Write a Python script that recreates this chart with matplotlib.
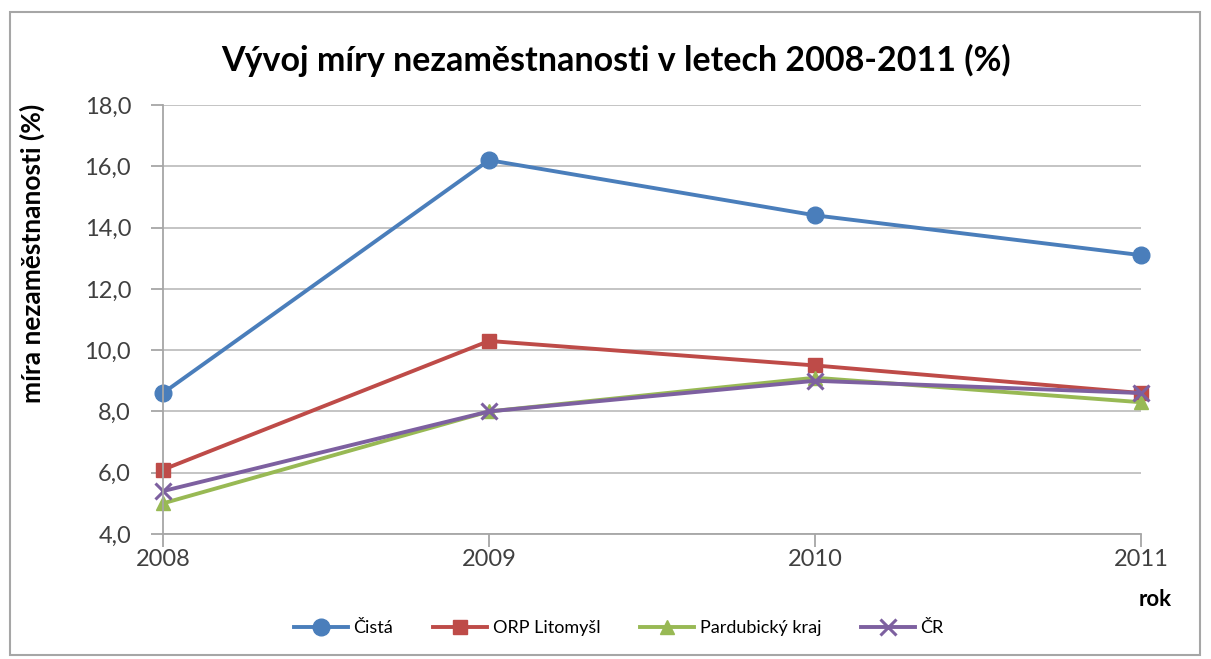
import matplotlib.pyplot as plt
from matplotlib.patches import Rectangle

plt.rcParams['font.family'] = ['Lato', 'DejaVu Sans']

years = ['2008', '2009', '2010', '2011']
cista = [8.6, 16.2, 14.4, 13.1]
orp_litomysl = [6.1, 10.3, 9.5, 8.6]
pardubicky = [5.0, 8.0, 9.1, 8.3]
cr = [5.4, 8.0, 9.0, 8.6]

series = [
    ('Čistá', cista, '#4A7EBB', 'o', 12),
    ('ORP Litomyšl', orp_litomysl, '#BE4B48', 's', 10),
    ('Pardubický kraj', pardubicky, '#98B954', '^', 10),
    ('ČR', cr, '#7D60A0', 'x', 12),
]

fig = plt.figure(figsize=(12.11, 6.59), dpi=100)
ax = fig.add_axes([163 / 1211, 1 - 534 / 659, (1141 - 163) / 1211, (534 - 105) / 659])

x = range(len(years))
for name, vals, color, marker, ms in series:
    ax.plot(x, vals, color=color, marker=marker, markersize=ms, linewidth=2.8,
            markeredgewidth=2.2 if marker == 'x' else 1, label=name, clip_on=False)

ax.set_xlim(0, len(years) - 1)
ax.set_ylim(4, 18)
ax.set_yticks(range(4, 19, 2))
ax.set_yticklabels([f'{v},0' for v in range(4, 19, 2)])
ax.set_xticks(list(x))
ax.set_xticklabels(years)
ax.yaxis.grid(True, color='#BFBFBF', linewidth=1.3)
ax.set_axisbelow(True)
for s in ['top', 'right']:
    ax.spines[s].set_visible(False)
for s in ['left', 'bottom']:
    ax.spines[s].set_color('#A6A6A6')
    ax.spines[s].set_linewidth(1.3)
ax.tick_params(axis='both', colors='#A6A6A6', length=9, width=1.3, labelsize=17,
               labelcolor='#404040')
ax.tick_params(axis='x', pad=2)
ax.tick_params(axis='y', pad=14)

ax.set_ylabel('míra nezaměstnanosti (%)', fontsize=19, fontweight='bold')
ax.yaxis.set_label_coords(-0.121, 0.655)
fig.text(616 / 1211, 1 - 60 / 659, 'Vývoj míry nezaměstnanosti v letech 2008-2011 (%)',
         ha='center', va='center', fontsize=24.5, fontweight='bold')
fig.text(1172 / 1211, 1 - 600 / 659, 'rok', ha='right', va='center', fontsize=16,
         fontweight='bold')

fig.legend(loc='center', bbox_to_anchor=(0.511, 1 - 628 / 659), ncol=4, frameon=False,
           fontsize=13, handlelength=3.0, handletextpad=0.3, columnspacing=2.2)

fig.patches.append(Rectangle((10 / 1211, 1 - 655 / 659), 1190 / 1211, 643 / 659,
                             transform=fig.transFigure, fill=False,
                             edgecolor='#A6A6A6', linewidth=1.5))

fig.savefig('out.png', dpi=100)
